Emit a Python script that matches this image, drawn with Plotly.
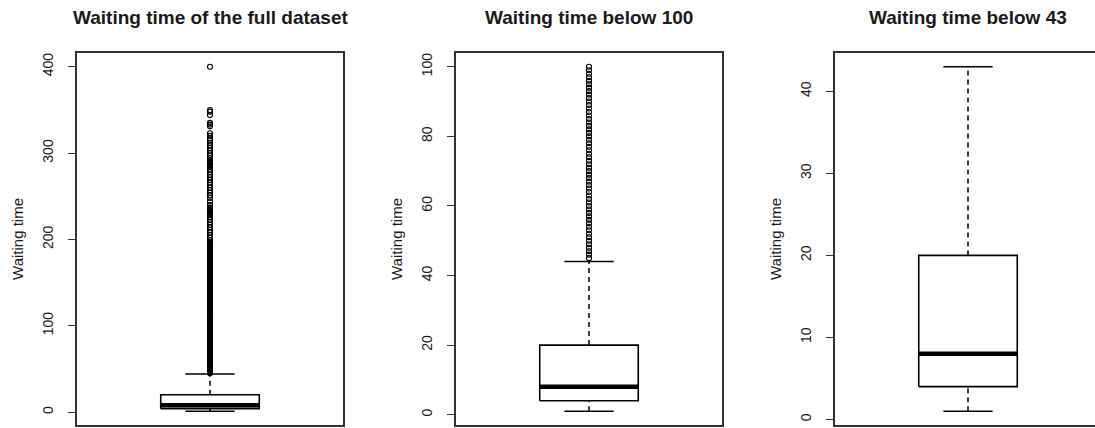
import plotly.graph_objects as go

# ---------------- data ----------------
panel_titles = ["Waiting time of the full dataset", "Waiting time below 100", "Waiting time below 43"]
y_label = "Waiting time"

whisker_low = [1, 1, 1]
q1 = [4, 4, 4]
median = [8, 8, 8]
q3 = [20, 20, 20]
whisker_high = [44, 44, 43]

outliers_full = [
    45, 46, 47, 48, 49, 50, 51, 52, 53, 54, 55, 56, 57, 58, 59, 60, 61, 62, 63, 64,
    65, 66, 67, 68, 69, 70, 71, 72, 73, 74, 75, 76, 77, 78, 79, 80, 81, 82, 83, 84,
    85, 86, 87, 88, 89, 90, 91, 92, 93, 94, 95, 96, 97, 98, 99, 100, 101, 102, 103, 104,
    105, 106, 107, 108, 109, 110, 111, 112, 113, 114, 115, 116, 117, 118, 119, 120, 121, 122, 123, 124,
    125, 126, 127, 128, 129, 130, 131, 132, 133, 134, 135, 136, 137, 138, 139, 141, 142, 143, 144, 145,
    146, 147, 148, 149, 151, 152, 153, 154, 155, 156, 157, 159, 160, 161, 162, 163, 164, 165, 166, 167,
    168, 169, 170, 171, 172, 173, 174, 175, 176, 177, 178, 179, 180, 181, 182, 183, 184, 185, 186, 187,
    188, 189, 190, 191, 192, 193, 194, 195, 196, 197, 199, 202, 205, 208, 211, 214, 217, 220, 223, 226,
    228, 229, 230, 231, 232, 233, 234, 235, 236, 237, 240, 244, 248, 251, 254, 257, 260, 263, 266, 269,
    272, 275, 278, 281, 284, 285, 286, 287, 288, 289, 290, 291, 292, 294, 297, 300, 303, 306, 309, 312,
    315, 317, 320, 323, 331, 333, 335, 344, 348, 350, 400,
]
outliers_100 = [
    45, 46, 47, 48, 49, 50, 51, 52, 53, 54, 55, 56, 57, 58, 59, 60, 61, 62, 63, 64,
    65, 66, 67, 68, 69, 70, 71, 72, 73, 74, 75, 76, 77, 78, 79, 80, 81, 82, 83, 84,
    85, 86, 87, 88, 89, 90, 91, 92, 93, 94, 95, 96, 97, 98, 99, 100,
]
outliers_43 = []
outliers = [outliers_full, outliers_100, outliers_43]

y_tick_values = [[0, 100, 200, 300, 400], [0, 20, 40, 60, 80, 100], [0, 10, 20, 30, 40]]

# ---------------- layout helpers ----------------
W, H = 1095, 428
plot_left_px = [77, 456, 835]
plot_right_px = [343, 722, 1095]
y_ranges = [[-14.96, 415.96], [-2.96, 103.96], [-0.68, 44.68]]
x_ranges = [[0.46, 1.54], [0.46, 1.54], [0.46, 1.5156]]

ink = "#000000"
text_col = "#1a1a1a"
font_family = "Arial, 'Liberation Sans', Helvetica, sans-serif"

fig = go.Figure()

for i in range(3):
    sfx = "" if i == 0 else str(i + 1)
    xa, ya = "x" + sfx, "y" + sfx
    # outliers
    if outliers[i]:
        fig.add_trace(go.Scatter(
            x=[1] * len(outliers[i]), y=outliers[i], xaxis=xa, yaxis=ya, mode="markers",
            marker=dict(symbol="circle-open", size=5, color=ink, line=dict(width=1.1, color=ink)),
            showlegend=False, hoverinfo="y"))
    # whiskers (dashed)
    fig.add_trace(go.Scatter(x=[1, 1], y=[q3[i], whisker_high[i]], xaxis=xa, yaxis=ya, mode="lines",
                             line=dict(color=ink, width=1.5, dash="5px,4px"), showlegend=False, hoverinfo="skip"))
    fig.add_trace(go.Scatter(x=[1, 1], y=[whisker_low[i], q1[i]], xaxis=xa, yaxis=ya, mode="lines",
                             line=dict(color=ink, width=1.5, dash="5px,4px"), showlegend=False, hoverinfo="skip"))
    # staples
    for v in (whisker_high[i], whisker_low[i]):
        fig.add_trace(go.Scatter(x=[0.9, 1.1], y=[v, v], xaxis=xa, yaxis=ya, mode="lines",
                                 line=dict(color=ink, width=1.5), showlegend=False, hoverinfo="skip"))
    # box
    fig.add_trace(go.Scatter(x=[0.8, 1.2, 1.2, 0.8, 0.8], y=[q1[i], q1[i], q3[i], q3[i], q1[i]],
                             xaxis=xa, yaxis=ya, mode="lines", fill="toself", fillcolor="white",
                             line=dict(color=ink, width=1.6), showlegend=False, hoverinfo="skip"))
    # median
    fig.add_trace(go.Scatter(x=[0.8, 1.2], y=[median[i], median[i]], xaxis=xa, yaxis=ya, mode="lines",
                             line=dict(color=ink, width=4.5), showlegend=False, hoverinfo="skip"))

    dom = [plot_left_px[i] / W, plot_right_px[i] / W]
    fig.layout["xaxis" + sfx] = dict(
        domain=dom, range=x_ranges[i], showticklabels=False, ticks="", showgrid=False,
        zeroline=False, showline=True, linecolor="#333333", linewidth=1.6, mirror=True,
        automargin=False, anchor=ya, fixedrange=True)
    fig.layout["yaxis" + sfx] = dict(
        domain=[0, 1], range=y_ranges[i], tickvals=y_tick_values[i], tickangle=-90,
        ticks="outside", ticklen=7, tickwidth=1.2, tickcolor="#333333",
        tickfont=dict(size=14, color=text_col, family=font_family), ticklabelstandoff=10,
        showgrid=False, zeroline=False, showline=True, linecolor="#333333", linewidth=1.6,
        mirror=(i < 2), automargin=False, anchor=xa, fixedrange=True,
        title=dict(text=y_label, font=dict(size=15, color=text_col, family=font_family), standoff=12))

    fig.add_annotation(text="<b>" + panel_titles[i] + "</b>", xref=xa, x=1, yref="paper",
                       y=1 + 36 / (H - 56), yanchor="middle", xanchor="center", showarrow=False,
                       font=dict(size=19, color=text_col, family=font_family))

fig.update_layout(
    template="none", width=W, height=H, margin=dict(l=0, r=0, t=53, b=3, pad=0),
    paper_bgcolor="white", plot_bgcolor="white", showlegend=False,
)

fig.write_html("out.html")
